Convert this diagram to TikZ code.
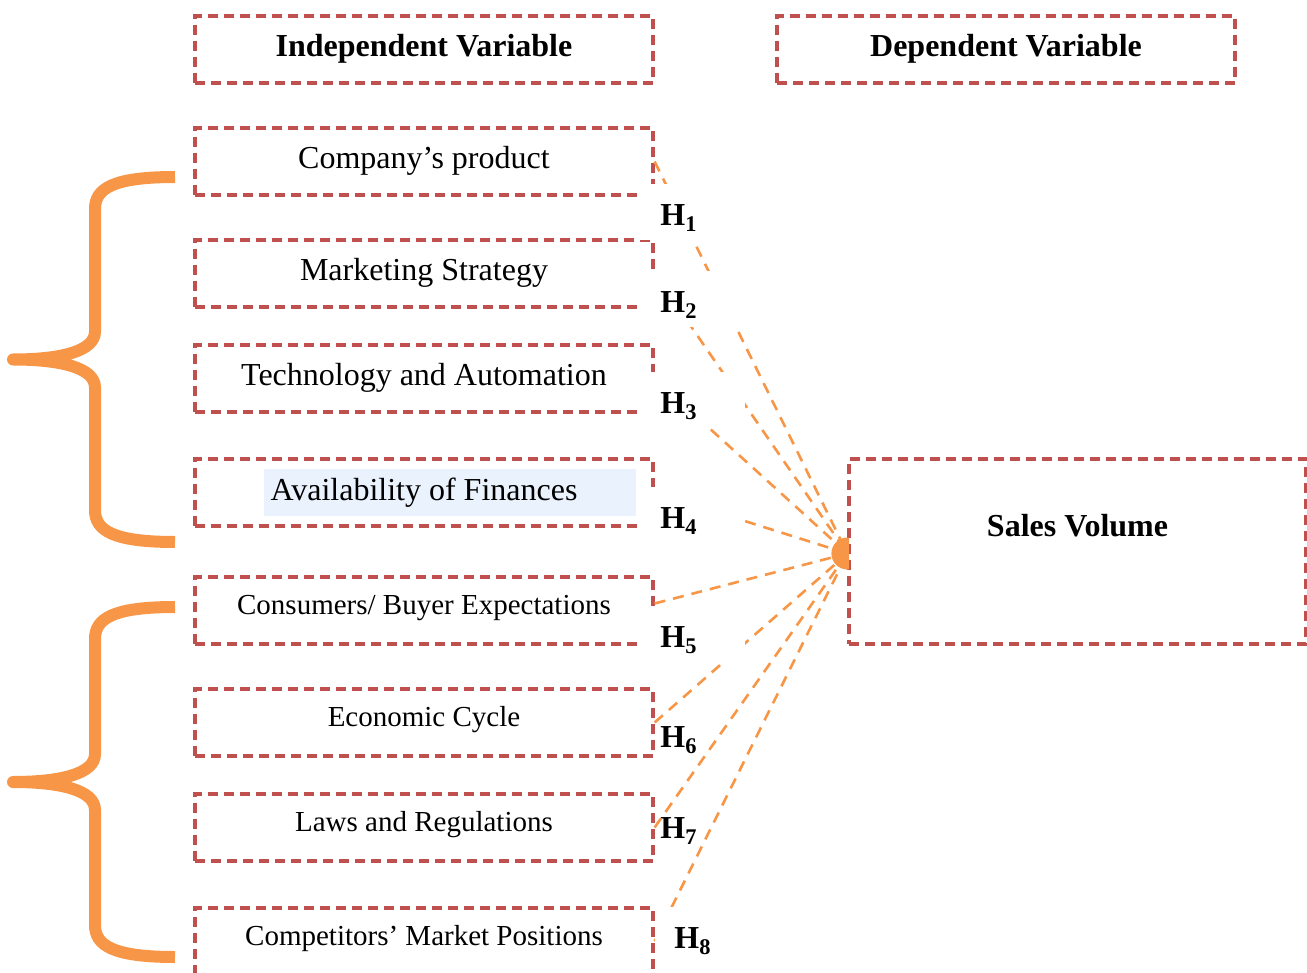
\documentclass[tikz,border=0pt]{standalone}
\usepackage{fontspec}
\setmainfont{Liberation Serif}

\definecolor{boxred}{HTML}{C0504D}
\definecolor{accent}{HTML}{F79646}
\definecolor{hilite}{HTML}{EAF2FD}

\begin{document}
\begin{tikzpicture}[x=0.5pt, y=-0.5pt]
        \tikzset{%
         every box/.style={
            draw=boxred,
            line width=1.6pt,
            dash pattern=on 5pt off 3pt,
            minimum width=229pt,
            minimum height=33.5pt,
            inner sep=0pt,
            text height=11pt,
            text depth=3.5pt},
        box big/.style={font=\fontsize{16}{19}\selectfont},
        box small/.style={font=\fontsize{14.5}{17}\selectfont, text depth=7.5pt},
        box head/.style={font=\fontsize{16}{19}\selectfont\bfseries},
        link/.style={
            draw=accent,
            line width=1.3pt,
            dash pattern=on 5.5pt off 4pt},
        brace/.style={
            draw=accent,
            line width=6pt,
            line join=round},
        hyp/.style={
            anchor=north west,
            font=\fontsize{16}{19}\selectfont\bfseries,
            inner xsep=11pt,
            inner ysep=0pt,
            text width=31.5pt,
            text height=15pt,
            text depth=1.5pt,
            align=left,
            minimum height=28pt},
        }

        \useasboundingbox (0,0) rectangle (1307,973);
        \clip (0,0) rectangle (1307,973);

        % headings
        \node [every box, box head] (indep) at (424,49.5) {Independent Variable};
        \node [every box, box head] (dep) at (1006,49.5) {Dependent Variable};

        % shading behind the finance line
        \fill [hilite] (264,469) rectangle (636,516);

        % independent variables
        \node [every box, box big] (prod) at (424,161.5) {Company’s product};
        \node [every box, box big] (mkt) at (424,273.5) {Marketing Strategy};
        \node [every box, box big] (tech) at (424,378.5) {Technology and Automation};
        \node [every box, box big] (fin) at (424,492.5) {Availability of Finances};
        \node [every box, box small] (cons) at (424,610.5) {Consumers/ Buyer Expectations};
        \node [every box, box small] (econ) at (424,722.5) {Economic Cycle};
        \node [every box, box small] (laws) at (424,827.5) {Laws and Regulations};
        \node [every box, box small] (comp) at (424,941.5) {Competitors’ Market Positions};

        % dependent variable
        \node [every box, box head, minimum width=228.5pt, minimum height=92.5pt,
               text depth=26pt] (sales) at (1077.5,551.5) {Sales Volume};
        \coordinate (hub) at ([yshift=-1pt]sales.west);

        \foreach \n in {prod,mkt,tech,fin,econ,laws,comp}
            \draw [link] (\n.east) -- (hub);
        \draw [link] ([yshift=3.5pt]cons.east) -- (hub);

        % hypothesis labels
        \foreach \i/\y/\f in {1/184/white, 2/271/white, 3/372/white, 4/487/white,
                              5/606/white, 6/706/none, 7/797/none}
            \node [hyp, fill=\f] (h\i) at (638,\y) {H\textsubscript{\i}};
        \node [hyp, fill=white, inner xsep=9.5pt] (h8) at (655,907) {H\textsubscript{8}};

        \begin{scope}
            \clip (820,520) rectangle (849,590);
            \fill [accent] (hub) circle [radius=16];
        \end{scope}

        % grouping braces
        \foreach \t/\b in {177/542, 607/957}
        {
            \pgfmathsetmacro\m{(\t+\b)/2}
            \draw [brace] (175,\t) .. controls (112,\t) and (95,\t+12) .. (95,\t+32)
                -- (95,\m-28) .. controls (95,\m-8) and (60,\m) .. (13,\m)
                .. controls (60,\m) and (95,\m+8) .. (95,\m+28)
                -- (95,\b-32) .. controls (95,\b-12) and (112,\b) .. (175,\b);
        }
    \end{tikzpicture}
\end{document}
